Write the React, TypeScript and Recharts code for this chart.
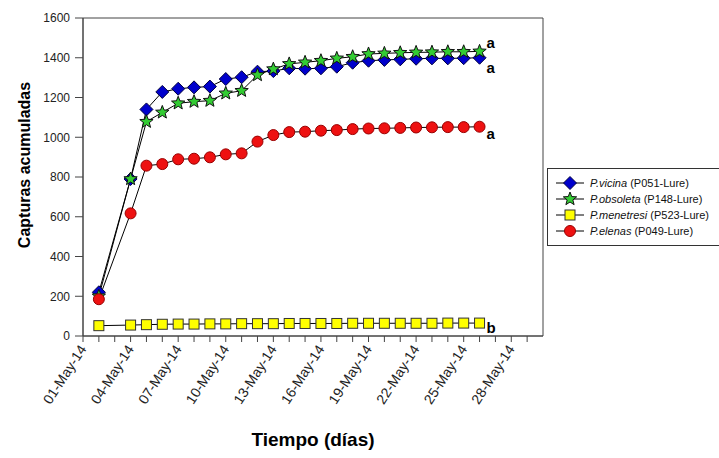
import React from "react"
import {
  LineChart,
  Line,
  XAxis,
  YAxis,
  ReferenceArea,
} from "recharts"

// dias de mayo 2014 con captura
const dias = [2, 4, 5, 6, 7, 8, 9, 10, 11, 12, 13, 14, 15, 16, 17, 18, 19, 20, 21, 22, 23, 24, 25, 26]

const vicina = [220, 790, 1140, 1228, 1244, 1251, 1255, 1293, 1302, 1330, 1333, 1347, 1345, 1347, 1355, 1375, 1385, 1389, 1392, 1395, 1397, 1397, 1398, 1400]
const obsoleta = [200, 790, 1078, 1125, 1171, 1179, 1184, 1221, 1234, 1313, 1343, 1369, 1377, 1385, 1397, 1405, 1419, 1422, 1425, 1427, 1428, 1430, 1430, 1432]
const menetresi = [52, 55, 57, 59, 60, 60, 61, 61, 62, 62, 62, 63, 63, 63, 63, 64, 64, 64, 64, 64, 64, 65, 65, 65]
const elenas = [185, 617, 857, 865, 889, 892, 899, 914, 919, 978, 1011, 1026, 1028, 1033, 1036, 1041, 1044, 1045, 1047, 1049, 1050, 1051, 1051, 1053]

const letras = { vicina: "a", obsoleta: "a", menetresi: "b", elenas: "a" }

const yTicks = [0, 200, 400, 600, 800, 1000, 1200, 1400, 1600]
const xTicks = Array.from({ length: 29 }, (_, i) => i + 1)
const xLabelDays = [1, 4, 7, 10, 13, 16, 19, 22, 25, 28]

const datos = dias.map((d, i) => ({
  dia: d,
  vicina: vicina[i],
  obsoleta: obsoleta[i],
  menetresi: menetresi[i],
  elenas: elenas[i],
}))

const FONT = "Arial, 'Liberation Sans', sans-serif"

function Diamante({ cx, cy }: any) {
  const s = 6.5
  return (
    <polygon
      points={`${cx},${cy - s} ${cx + s},${cy} ${cx},${cy + s} ${cx - s},${cy}`}
      fill="#0000cc"
      stroke="#000040"
      strokeWidth={1}
    />
  )
}

function Estrella({ cx, cy }: any) {
  const pts: string[] = []
  for (let k = 0; k < 10; k++) {
    const r = k % 2 === 0 ? 7 : 3
    const a = -Math.PI / 2 + (k * Math.PI) / 5
    pts.push(`${cx + r * Math.cos(a)},${cy + r * Math.sin(a)}`)
  }
  return <polygon points={pts.join(" ")} fill="#33cc33" stroke="#111" strokeWidth={1} />
}

function Cuadrado({ cx, cy }: any) {
  return <rect x={cx - 5} y={cy - 5} width={10} height={10} fill="#ffff00" stroke="#333" strokeWidth={1} />
}

function Circulo({ cx, cy }: any) {
  return <circle cx={cx} cy={cy} r={5.5} fill="#ee1111" stroke="#990000" strokeWidth={1} />
}

function letraFinal(letra: string, dy: number) {
  return (props: any) => {
    if (props.index !== dias.length - 1) return null
    return (
      <text
        key={"l" + letra + dy}
        x={props.x + 7}
        y={props.y + dy}
        fontFamily={FONT}
        fontSize={15}
        fontWeight="bold"
        fill="#000"
      >
        {letra}
      </text>
    )
  }
}

function TickFecha({ x, y, payload }: any) {
  const d = payload.value
  if (!xLabelDays.includes(d)) return null
  const txt = `${String(d).padStart(2, "0")}-May-14`
  return (
    <g transform={`translate(${x + 4},${y + 5})`}>
      <text
        x={0}
        y={0}
        textAnchor="end"
        transform="rotate(-57)"
        fontFamily={FONT}
        fontSize={14}
        fill="#222"
      >
        {txt}
      </text>
    </g>
  )
}

const leyenda = [
  { nombre: "P.vicina", codigo: " (P051-Lure)", Marca: Diamante },
  { nombre: "P.obsoleta", codigo: " (P148-Lure)", Marca: Estrella },
  { nombre: "P.menetresi", codigo: " (P523-Lure)", Marca: Cuadrado },
  { nombre: "P.elenas", codigo: " (P049-Lure)", Marca: Circulo },
]

function Leyenda() {
  return (
    <div
      style={{
        position: "absolute",
        left: 547,
        top: 168,
        width: 190,
        height: 76,
        border: "1px solid #333",
        background: "#fff",
        fontFamily: FONT,
        fontSize: 11,
        color: "#111",
      }}
    >
      {leyenda.map((it, i) => (
        <div
          key={it.nombre}
          style={{ position: "absolute", left: 6, top: 6 + i * 16, height: 16, display: "flex", alignItems: "center", whiteSpace: "nowrap" }}
        >
          <svg width={32} height={16}>
            <line x1={2} y1={8} x2={30} y2={8} stroke="#000" strokeWidth={1} />
            <it.Marca cx={16} cy={8} />
          </svg>
          <span style={{ marginLeft: 4 }}>
            <i>{it.nombre}</i>
            {it.codigo}
          </span>
        </div>
      ))}
    </div>
  )
}

export default function App() {
  return (
    <div
      style={{
        position: "absolute",
        left: 0,
        top: 0,
        width: 719,
        height: 458,
        overflow: "hidden",
        background: "#fff",
        fontFamily: FONT,
      }}
    >
      <LineChart width={719} height={458} data={datos} margin={{ top: 18, right: 176, bottom: 0, left: 0 }}>
        <ReferenceArea x1={1} x2={30} y1={0} y2={1600} fill="none" stroke="#444" strokeWidth={1} />
        <XAxis
          dataKey="dia"
          type="number"
          domain={[1, 30]}
          ticks={xTicks}
          interval={0}
          height={122}
          tick={<TickFecha />}
          tickSize={6}
          axisLine={{ stroke: "#444" }}
          tickLine={{ stroke: "#444" }}
          label={(p: any) => (
            <text x={313} y={446} textAnchor="middle" fontFamily={FONT} fontSize={19} fontWeight="bold" fill="#000">
              Tiempo (días)
            </text>
          )}
        />
        <YAxis
          type="number"
          domain={[0, 1600]}
          ticks={yTicks}
          interval={0}
          width={83}
          tickSize={8}
          tickMargin={5}
          tick={{ fontSize: 12, fill: "#222", fontFamily: FONT }}
          axisLine={{ stroke: "#444" }}
          tickLine={{ stroke: "#444" }}
          label={(p: any) => (
            <text
              x={0}
              y={0}
              transform="translate(30,165) rotate(-90)"
              textAnchor="middle"
              fontFamily={FONT}
              fontSize={16}
              fontWeight="bold"
              fill="#000"
            >
              Capturas acumuladas
            </text>
          )}
        />
        <Line dataKey="vicina" stroke="#000" strokeWidth={1} dot={<Diamante />} activeDot={false} isAnimationActive={false} label={letraFinal(letras.vicina, 15)} />
        <Line dataKey="obsoleta" stroke="#000" strokeWidth={1} dot={<Estrella />} activeDot={false} isAnimationActive={false} label={letraFinal(letras.obsoleta, -3)} />
        <Line dataKey="menetresi" stroke="#000" strokeWidth={1} dot={<Cuadrado />} activeDot={false} isAnimationActive={false} label={letraFinal(letras.menetresi, 10)} />
        <Line dataKey="elenas" stroke="#000" strokeWidth={1} dot={<Circulo />} activeDot={false} isAnimationActive={false} label={letraFinal(letras.elenas, 12)} />
      </LineChart>
      <Leyenda />
    </div>
  )
}
